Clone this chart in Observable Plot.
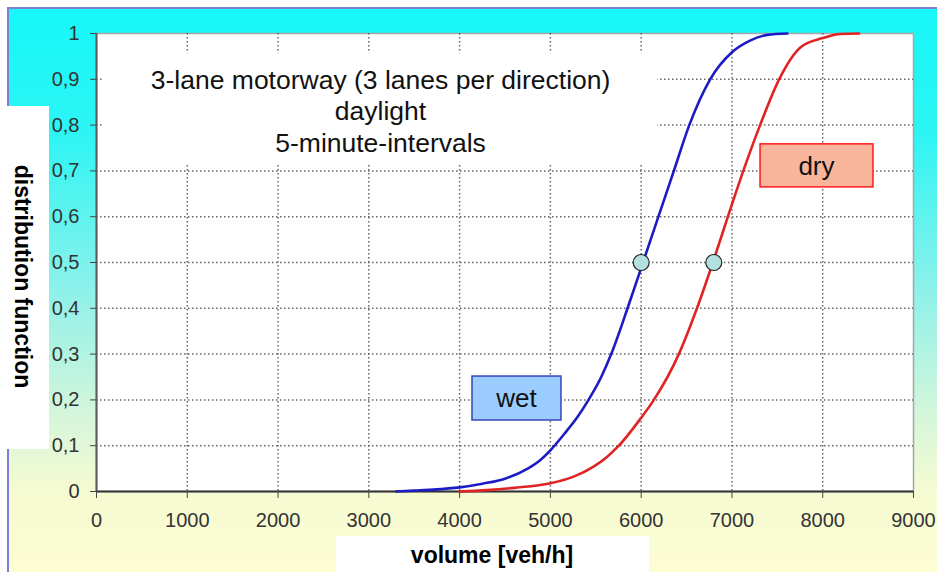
<!DOCTYPE html>
<html>
<head>
<meta charset="utf-8">
<script src="https://cdn.jsdelivr.net/npm/d3@7"></script>
<script src="https://cdn.jsdelivr.net/npm/@observablehq/plot@0.6"></script>
<style>
html, body { margin: 0; padding: 0; background: #ffffff; }
#wrap { position: relative; width: 937px; height: 572px; overflow: hidden; font-family: "Liberation Sans", Arial, sans-serif; }
#bg { position: absolute; left: 7px; top: 7px; right: 0; bottom: 0;
  border-left: 2px solid #7c80d4; border-top: 2px solid #7c80d4;
  background: linear-gradient(to bottom, #16f7f7 0%, #2cf5f4 22%, #8ef1ea 50%, #d4f6da 72%, #f6fbd2 86%, #fdfdd2 100%); }
.wbox { position: absolute; background: #ffffff; }
#chart { position: absolute; left: 0; top: 0; }
</style>
</head>
<body>
<div id="wrap">
  <div id="bg"></div>
  <div class="wbox" style="left:0;top:106px;width:49px;height:343px;"></div>
  <div class="wbox" style="left:336px;top:536px;width:313px;height:36px;"></div>
  <div id="chart"></div>
</div>
<script>
// ---- data ----
const xTicks = [0, 1000, 2000, 3000, 4000, 5000, 6000, 7000, 8000, 9000];
const yTicks = [0, 0.1, 0.2, 0.3, 0.4, 0.5, 0.6, 0.7, 0.8, 0.9, 1];
const yTickLabels = ["0", "0,1", "0,2", "0,3", "0,4", "0,5", "0,6", "0,7", "0,8", "0,9", "1"];

const wetVolume = [3300, 3500, 3700, 4000, 4250, 4500, 4750, 4890, 5000, 5150, 5300, 5420, 5560, 5670, 5850, 6020, 6190, 6360, 6530, 6760, 7000, 7205, 7390, 7610];
const wetShare  = [0, 0.002, 0.004, 0.009, 0.017, 0.028, 0.05, 0.069, 0.09, 0.125, 0.163, 0.2, 0.25, 0.3, 0.4, 0.5, 0.6, 0.7, 0.8, 0.9, 0.959, 0.985, 0.997, 1];

const dryVolume = [4000, 4300, 4600, 5000, 5250, 5480, 5620, 5754, 6000, 6140, 6415, 6615, 6790, 6955, 7125, 7310, 7520, 7757, 8000, 8196, 8400];
const dryShare  = [0, 0.003, 0.008, 0.018, 0.032, 0.055, 0.075, 0.1, 0.161, 0.2, 0.3, 0.4, 0.5, 0.6, 0.7, 0.8, 0.9, 0.97, 0.99, 0.999, 1];

const medianVolume = [6000, 6800];
const medianShare = [0.5, 0.5];

const titleLines = "3-lane motorway (3 lanes per direction)\ndaylight\n5-minute-intervals";
const xLabel = "volume [veh/h]";
const yLabel = "distribution function";
const seriesNames = ["wet", "dry"];

// ---- tables ----
const wet = wetVolume.map((v, i) => ({x: v, y: wetShare[i]}));
const dry = dryVolume.map((v, i) => ({x: v, y: dryShare[i]}));
const medians = medianVolume.map((v, i) => ({x: v, y: medianShare[i]}));

// annotation boxes (data units)
const titleBox = [{x1: 77, x2: 6180, y1: 0.716, y2: 0.956}];
const wetBox = [{x1: 4142, x2: 5122, y1: 0.155, y2: 0.251, cx: 4627, cy: 0.203, label: seriesNames[0]}];
const dryBox = [{x1: 7315, x2: 8559, y1: 0.664, y2: 0.758, cx: 7931, cy: 0.710, label: seriesNames[1]}];

const font = "Liberation Sans, Arial, sans-serif";

const chart = Plot.plot({
  width: 937,
  height: 572,
  marginLeft: 96,
  marginRight: 24,
  marginTop: 33,
  marginBottom: 81,
  style: {background: "transparent", fontFamily: font, overflow: "visible"},
  x: {domain: [0, 9000]},
  y: {domain: [0, 1]},
  marks: [
    Plot.frame({fill: "white", stroke: "#a6a6a6", strokeWidth: 1.5}),
    Plot.gridX(xTicks.slice(1, -1), {stroke: "#555", strokeOpacity: 0.9, strokeWidth: 1.5, strokeDasharray: "1.5,2.5"}),
    Plot.gridY(yTicks.slice(1, -1), {stroke: "#555", strokeOpacity: 0.9, strokeWidth: 1.5, strokeDasharray: "1.5,2.5"}),
    Plot.rect(titleBox, {x1: "x1", x2: "x2", y1: "y1", y2: "y2", fill: "white"}),
    Plot.text([titleLines], {x: 3129, y: 0.832, text: d => d, fontSize: 26.5, lineHeight: 1.18, fill: "#111", textAnchor: "middle"}),
    Plot.ruleX([0], {stroke: "#5a5a5a", strokeWidth: 2}),
    Plot.ruleY([0], {stroke: "#333", strokeWidth: 2}),
    Plot.line(wet, {x: "x", y: "y", stroke: "#1c1cc4", strokeWidth: 2.6, curve: "monotone-x"}),
    Plot.line(dry, {x: "x", y: "y", stroke: "#e02424", strokeWidth: 2.6, curve: "monotone-x"}),
    Plot.dot(medians, {x: "x", y: "y", r: 8, fill: "#b5e0e0", stroke: "#222", strokeWidth: 1.2}),
    Plot.rect(wetBox, {x1: "x1", x2: "x2", y1: "y1", y2: "y2", fill: "#9accfd", stroke: "#3546b8", strokeWidth: 1.5}),
    Plot.text(wetBox, {x: "cx", y: "cy", text: "label", fontSize: 26, fill: "#111"}),
    Plot.rect(dryBox, {x1: "x1", x2: "x2", y1: "y1", y2: "y2", fill: "#f9b59b", stroke: "#ff1a1a", strokeWidth: 1.5}),
    Plot.text(dryBox, {x: "cx", y: "cy", text: "label", fontSize: 26, fill: "#111"}),
    Plot.axisX({ticks: xTicks, tickFormat: d => String(d), tickSize: 7, tickPadding: 14, fontSize: 20, stroke: "#444", color: "#333", label: null}),
    Plot.axisY({ticks: yTicks, tickFormat: d => yTickLabels[yTicks.indexOf(d)], tickSize: 6, tickPadding: 11, fontSize: 20, stroke: "#444", color: "#333", label: null}),
    Plot.text([xLabel], {frameAnchor: "bottom", dx: -13, dy: 64, text: d => d, textAnchor: "middle", lineAnchor: "middle", fontSize: 23, fontWeight: "bold", fill: "#000"}),
    Plot.text([yLabel], {frameAnchor: "left", dx: -74, dy: 14, rotate: 90, text: d => d, textAnchor: "middle", lineAnchor: "middle", fontSize: 23, fontWeight: "bold", fill: "#000"})
  ]
});
document.getElementById("chart").appendChild(chart);
</script>
</body>
</html>
